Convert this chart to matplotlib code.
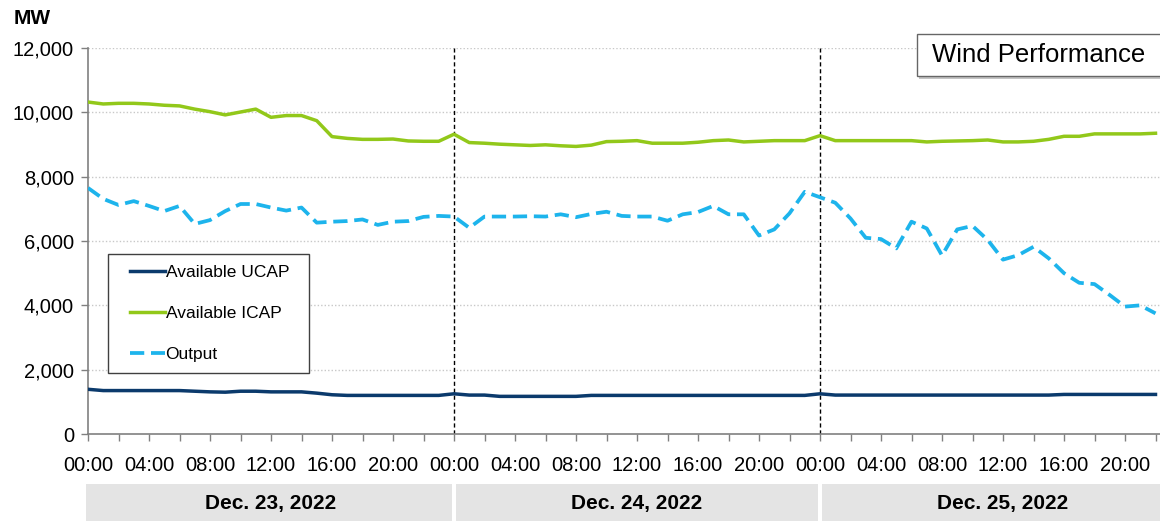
import matplotlib
matplotlib.use("Agg")
import matplotlib.pyplot as plt
from matplotlib.patches import Rectangle
from matplotlib.transforms import blended_transform_factory
import numpy as np

plt.rcParams['font.family'] = ['Liberation Sans', 'DejaVu Sans']

# ---------------- data (hourly, starting Dec 23 00:00) ----------------
hours = list(range(71))
ucap = [1390, 1350, 1350, 1350, 1350, 1350, 1350, 1330, 1310, 1300, 1330, 1330, 1310, 1310, 1310, 1270,
        1220, 1200, 1200, 1200, 1200, 1200, 1200, 1200, 1250,
        1210, 1210, 1170, 1170, 1170, 1170, 1170, 1170, 1200, 1200, 1200, 1200, 1200, 1200, 1200,
        1200, 1200, 1200, 1200, 1200, 1200, 1200, 1200, 1250,
        1210, 1210, 1210, 1210, 1210, 1210, 1210, 1210, 1210, 1210, 1210, 1210, 1210, 1210, 1210,
        1230, 1230, 1230, 1230, 1230, 1230, 1230]
icap = [10320, 10260, 10280, 10280, 10260, 10220, 10200, 10100, 10020, 9920, 10010, 10100, 9845, 9900, 9900,
        9740, 9245, 9190, 9160, 9160, 9170, 9110, 9100, 9100, 9320,
        9060, 9040, 9010, 8990, 8970, 8990, 8960, 8940, 8980, 9090, 9100, 9120, 9040, 9040, 9040,
        9070, 9120, 9140, 9080, 9100, 9120, 9120, 9120, 9275,
        9120, 9120, 9120, 9120, 9120, 9120, 9080, 9100, 9110, 9120, 9140, 9080, 9080, 9100, 9160,
        9255, 9255, 9330, 9330, 9330, 9330, 9350]
output = [7650, 7310, 7120, 7240, 7090, 6930, 7090, 6530, 6650, 6930, 7150, 7150, 7040, 6945, 7040,
          6570, 6600, 6620, 6670, 6500, 6600, 6620, 6750, 6780, 6760,
          6410, 6760, 6760, 6760, 6770, 6760, 6830, 6740, 6840, 6910, 6780, 6760, 6760, 6630, 6830,
          6900, 7090, 6830, 6830, 6170, 6360, 6860, 7530, 7360,
          7190, 6700, 6100, 6060, 5770, 6600, 6390, 5550, 6360, 6470, 6030, 5420, 5560, 5820, 5460,
          5000, 4700, 4660, 4320, 3960, 4000, 3750]

series_names = ["Available UCAP", "Available ICAP", "Output"]
colors = ["#0b3a6c", "#92c81a", "#1db4ec"]
yticks = [0, 2000, 4000, 6000, 8000, 10000, 12000]
major_hours = list(range(0, 71, 4))
hour_labels = ["%02d:00" % (h % 24) for h in major_hours]
day_labels = ["Dec. 23, 2022", "Dec. 24, 2022", "Dec. 25, 2022"]
title_text = "Wind Performance"

# ---------------- figure ----------------
W, H = 1160, 521
fig = plt.figure(figsize=(W / 100, H / 100), dpi=100)
ax_left, ax_right, ax_top, ax_bot = 88, 1160, 48, 434
ax = fig.add_axes([ax_left / W, 1 - ax_bot / H, (ax_right - ax_left) / W, (ax_bot - ax_top) / H])

xmax = (ax_right - ax_left) / 15.25
ax.set_xlim(0, xmax)
ax.set_ylim(0, 12000)

ax.plot(hours, ucap, color=colors[0], lw=2.5, label=series_names[0], zorder=3)
ax.plot(hours, icap, color=colors[1], lw=2.5, label=series_names[1], zorder=3)
ax.plot(hours, output, color=colors[2], lw=2.7, dashes=(3.8, 1.8), label=series_names[2], zorder=3)

# grid
for y in yticks[1:]:
    ax.axhline(y, color="#c8c8c8", lw=1.0, ls=(0, (1, 1.5)), zorder=1)
# day separators
for d in (24, 48):
    ax.axvline(d, color="black", lw=1.0, ls=(0, (3, 2)), zorder=2)

for s in ("top", "right"):
    ax.spines[s].set_visible(False)
for s in ("left", "bottom"):
    ax.spines[s].set_color("#808080")
    ax.spines[s].set_linewidth(1.2)

ax.set_yticks(yticks)
ax.set_yticklabels(["{:,}".format(v) for v in yticks])
ax.set_xticks(major_hours)
ax.set_xticklabels(hour_labels)
ax.set_xticks(list(range(2, 71, 4)), minor=True)
ax.tick_params(axis="both", which="both", direction="out", length=5, width=1.0, color="#808080",
               labelsize=14.5, labelcolor="black")
ax.tick_params(axis="x", pad=11)
ax.tick_params(axis="y", pad=5)

# MW label
fig.text(14 / W, 1 - 18 / H, "MW", fontsize=15, fontweight="bold", ha="left", va="center")

# legend: frame drawn separately, entries placed inside
lx0, ly0, lx1, ly1 = 108, 254, 309, 373
frame = Rectangle((lx0 / W, 1 - ly1 / H), (lx1 - lx0) / W, (ly1 - ly0) / H, transform=fig.transFigure,
                  fc="white", ec="#404040", lw=1.0, zorder=4)
fig.patches.append(frame)
leg = fig.legend(*ax.get_legend_handles_labels(), loc="upper left",
                 bbox_to_anchor=(130 / W, 1 - 265 / H), bbox_transform=fig.transFigure,
                 frameon=False, fontsize=12.5, handlelength=2.0, handletextpad=0.05,
                 labelspacing=1.48, borderpad=0, borderaxespad=0)
leg.set_zorder(5)

# title box (extends past right edge like the reference)
bx0, by0, bx1, by1 = 917, 34, 1175, 76
shadow = Rectangle((bx0 / W + 2 / W, 1 - by1 / H - 3 / H), (bx1 - bx0) / W, (by1 - by0) / H,
                   transform=fig.transFigure, fc="#c4c4c4", ec="none", zorder=5)
box = Rectangle((bx0 / W, 1 - by1 / H), (bx1 - bx0) / W, (by1 - by0) / H,
                transform=fig.transFigure, fc="white", ec="#666666", lw=1.0, zorder=6)
fig.patches.extend([shadow, box])
fig.text(1039 / W, 1 - 55 / H, title_text, fontsize=18.5, ha="center", va="center", zorder=7)

# date band
trans = blended_transform_factory(ax.transData, fig.transFigure)
gap = 0.13
band_bottom = 0.0
band_h = (521 - 484) / H
for i, lab in enumerate(day_labels):
    x0 = i * 24 + gap if i > 0 else -0.15
    x1 = (i + 1) * 24 - gap if i < 2 else 80
    r = Rectangle((x0, band_bottom), x1 - x0, band_h, transform=trans, fc="#e4e4e4", ec="none", clip_on=False)
    fig.patches.append(r)
    fig.text(i * 24 + 12, band_bottom + band_h / 2 - 0.002, lab, transform=trans, fontsize=15, fontweight="bold",
             ha="center", va="center")

fig.savefig("out.png", dpi=100)
